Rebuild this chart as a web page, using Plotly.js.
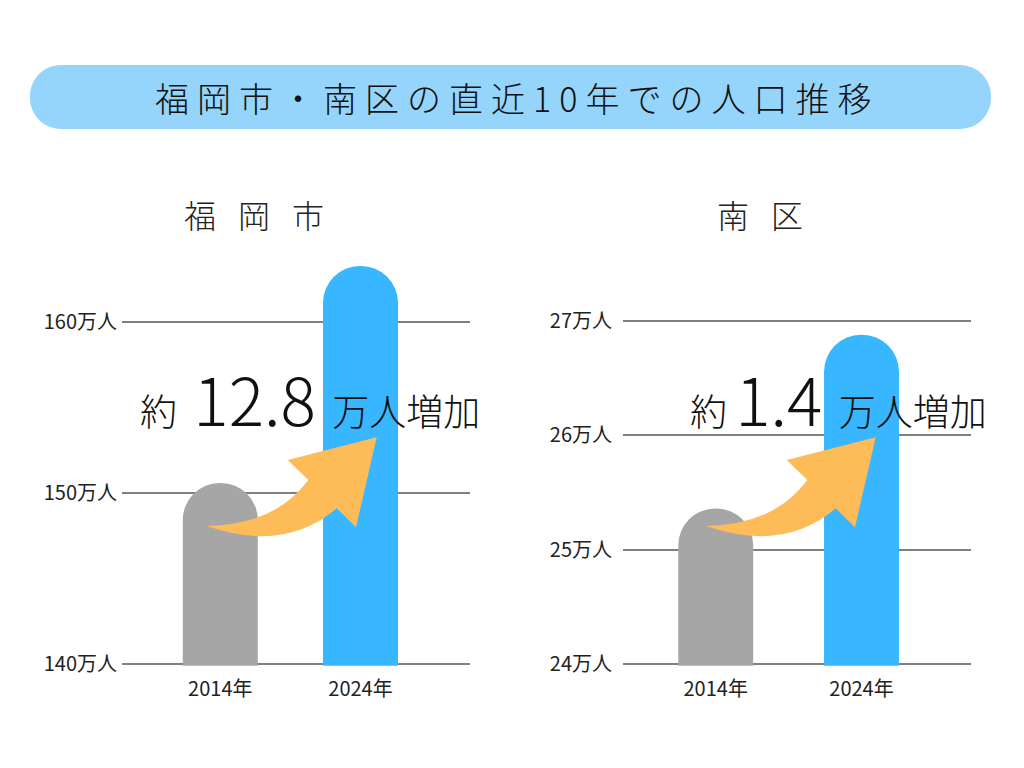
<!DOCTYPE html>
<html>
<head>
<meta charset="utf-8">
<script src="https://cdn.plot.ly/plotly-3.0.1.min.js"></script>
<style>
  html, body { margin: 0; padding: 0; background: #ffffff; }
  #chart { width: 1024px; height: 768px; }
</style>
</head>
<body>
<div id="chart"></div>
<script>
// ---- data ----
const years = ['2014年', '2024年'];
const fukuokaCity = [150.6, 163.3];      // 万人
const minamiWard = [25.36, 26.88];       // 万人
const cityTickVals = [140, 150, 160];
const cityTickText = ['140万人', '150万人', '160万人'];
const wardTickVals = [24, 25, 26, 27];
const wardTickText = ['24万人', '25万人', '26万人', '27万人'];
const mainTitle = '福岡市・南区の直近10年での人口推移';
const cityTitle = '福岡市';
const wardTitle = '南区';
const cityIncrease = '12.8';
const wardIncrease = '1.4';

// ---- styling helpers ----
const W = 1024, H = 768;
const FONT = '"Noto Sans CJK JP", "Noto Sans", sans-serif';
const px = x => x / W;
const py = y => 1 - y / H;
const P = (x, y) => px(x).toFixed(5) + ',' + py(y).toFixed(5);

function roundedBox(x0, y0, x1, y1, r) {
  const k = 0.5523 * r;
  return 'M' + P(x0 + r, y0) +
    ' L' + P(x1 - r, y0) +
    ' C' + P(x1 - r + k, y0) + ' ' + P(x1, y0 + r - k) + ' ' + P(x1, y0 + r) +
    ' L' + P(x1, y1 - r) +
    ' C' + P(x1, y1 - r + k) + ' ' + P(x1 - r + k, y1) + ' ' + P(x1 - r, y1) +
    ' L' + P(x0 + r, y1) +
    ' C' + P(x0 + r - k, y1) + ' ' + P(x0, y1 - r + k) + ' ' + P(x0, y1 - r) +
    ' L' + P(x0, y0 + r) +
    ' C' + P(x0, y0 + r - k) + ' ' + P(x0 + r - k, y0) + ' ' + P(x0 + r, y0) + ' Z';
}

function arrowPath(dx) {
  const q = (x, y) => P(x + dx, y);
  return 'M' + q(206.7, 526) +
    ' Q' + q(275, 525) + ' ' + q(308.3, 480) +
    ' L' + q(287.7, 460) +
    ' L' + q(376.7, 437.3) +
    ' L' + q(356, 527.3) +
    ' L' + q(336.7, 508.3) +
    ' Q' + q(285, 553) + ' ' + q(206.7, 526) + ' Z';
}

const gray = '#A6A6A6', blue = '#38B6FF';

const traces = [
  {
    type: 'bar', x: years, y: fukuokaCity, xaxis: 'x', yaxis: 'y',
    width: 0.535,
    marker: { color: [gray, blue], cornerradius: '50%', line: { width: 0 } },
    hoverinfo: 'none'
  },
  {
    type: 'bar', x: years, y: minamiWard, xaxis: 'x2', yaxis: 'y2',
    width: 0.514,
    marker: { color: [gray, blue], cornerradius: '50%', line: { width: 0 } },
    hoverinfo: 'none'
  }
];

const tickFont = { family: FONT, size: 20, color: '#222222' };

const layout = {
  width: W, height: H,
  margin: { l: 0, r: 0, t: 0, b: 0 },
  paper_bgcolor: '#ffffff', plot_bgcolor: 'rgba(0,0,0,0)',
  showlegend: false,
  font: { family: FONT },
  xaxis: {
    domain: [px(122), px(470)], anchor: 'y',
    type: 'category', range: [-0.701, 1.781],
    showgrid: false, zeroline: false, showline: false, ticks: '',
    tickfont: tickFont, ticklabelstandoff: 9, fixedrange: true
  },
  yaxis: {
    domain: [py(665.7), py(236.9)], anchor: 'x',
    range: [139.9, 165],
    tickvals: cityTickVals, ticktext: cityTickText,
    showgrid: true, gridcolor: '#808080', gridwidth: 2,
    zeroline: false, showline: false, ticks: '',
    tickfont: tickFont, ticklabelstandoff: 4, fixedrange: true
  },
  xaxis2: {
    domain: [px(623), px(971)], anchor: 'y2',
    type: 'category', range: [-0.636, 1.751],
    showgrid: false, zeroline: false, showline: false, ticks: '',
    tickfont: tickFont, ticklabelstandoff: 9, fixedrange: true
  },
  yaxis2: {
    domain: [py(665.7), py(286.7)], anchor: 'x2',
    range: [23.985, 27.3],
    tickvals: wardTickVals, ticktext: wardTickText,
    showgrid: true, gridcolor: '#808080', gridwidth: 2,
    zeroline: false, showline: false, ticks: '',
    tickfont: tickFont, ticklabelstandoff: 10, fixedrange: true
  },
  shapes: [
    { type: 'path', xref: 'paper', yref: 'paper', layer: 'below',
      path: roundedBox(30, 65, 991, 129, 31),
      fillcolor: '#95D5FC', line: { width: 0 } },
    { type: 'path', xref: 'paper', yref: 'paper', layer: 'above',
      path: arrowPath(0), fillcolor: '#FEBC59', line: { width: 0 } },
    { type: 'path', xref: 'paper', yref: 'paper', layer: 'above',
      path: arrowPath(499), fillcolor: '#FEBC59', line: { width: 0 } }
  ],
  annotations: [
    { xref: 'paper', yref: 'paper', x: px(517), y: py(97),
      xanchor: 'center', yanchor: 'middle', showarrow: false,
      text: '<span style="letter-spacing:8px">' + mainTitle + '</span>',
      font: { family: FONT, size: 34, color: '#111111', weight: 300 } },
    { xref: 'paper', yref: 'paper', x: px(265), y: py(214),
      xanchor: 'center', yanchor: 'middle', showarrow: false,
      text: '<span style="letter-spacing:22px">' + cityTitle + '</span>',
      font: { family: FONT, size: 32, color: '#222222', weight: 300 } },
    { xref: 'paper', yref: 'paper', x: px(771), y: py(214),
      xanchor: 'center', yanchor: 'middle', showarrow: false,
      text: '<span style="letter-spacing:22px">' + wardTitle + '</span>',
      font: { family: FONT, size: 32, color: '#222222', weight: 300 } },
    { xref: 'paper', yref: 'paper', x: px(138), y: py(447),
      xanchor: 'left', yanchor: 'bottom', showarrow: false,
      text: '約&nbsp; <span style="font-size:66px">' + cityIncrease + '</span>&nbsp; 万人増加',
      font: { family: FONT, size: 37, color: '#111111', weight: 300 } },
    { xref: 'paper', yref: 'paper', x: px(688), y: py(447),
      xanchor: 'left', yanchor: 'bottom', showarrow: false,
      text: '約 <span style="font-size:66px">' + wardIncrease + '</span>&nbsp; 万人増加',
      font: { family: FONT, size: 37, color: '#111111', weight: 300 } }
  ]
};

Plotly.newPlot('chart', traces, layout, { displayModeBar: false, staticPlot: true });
</script>
</body>
</html>
